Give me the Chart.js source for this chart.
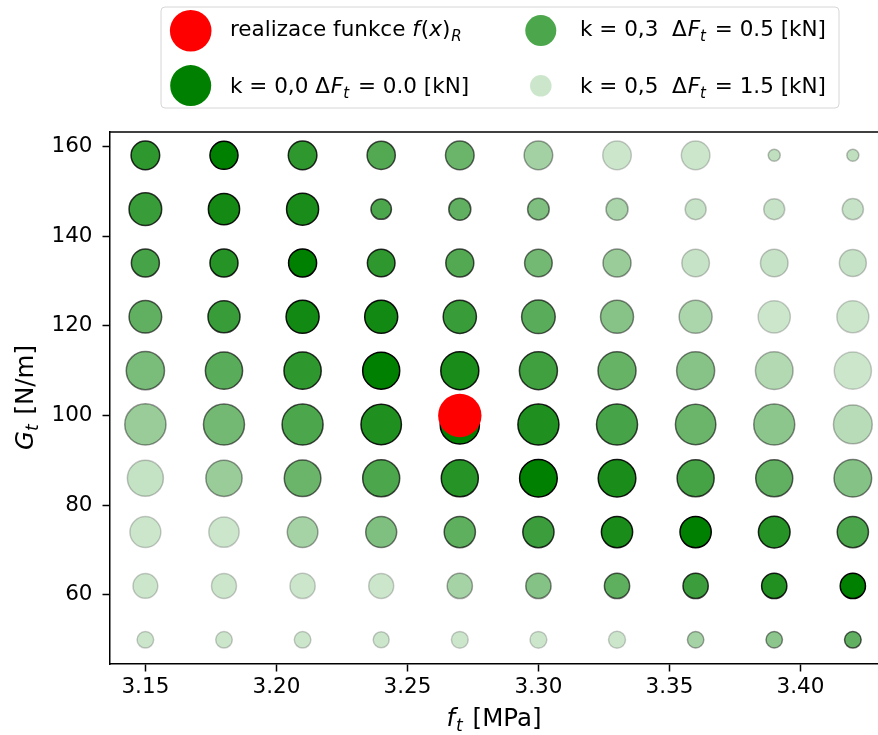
<!DOCTYPE html>
<html><head><meta charset="utf-8">
<script src="https://cdn.jsdelivr.net/npm/chart.js@4.4.1/dist/chart.umd.min.js"></script>
<style>html,body{margin:0;padding:0;background:#fff;overflow:hidden}canvas{display:block}</style>
</head><body><canvas id="c" width="878" height="735"></canvas>
<script>
// ---- data ----
const xValues = [3.15, 3.18, 3.21, 3.24, 3.27, 3.30, 3.33, 3.36, 3.39, 3.42];
const yValues = [50, 62, 74, 86, 98, 110, 122, 134, 146, 158];
// bubble size per cell (rows follow yValues, columns follow xValues)
const bubbleSize = [
  [8.3, 8.3, 8.3, 8.0, 8.4, 8.4, 8.5, 8.2, 8.2, 8.3],
  [12.4, 12.5, 12.6, 12.5, 12.6, 12.6, 12.6, 12.6, 12.6, 12.6],
  [15.5, 15.2, 15.3, 15.5, 15.6, 15.6, 15.6, 15.6, 15.8, 15.6],
  [18.0, 18.1, 18.3, 18.5, 18.5, 18.8, 18.8, 18.5, 18.5, 18.8],
  [20.6, 20.5, 20.5, 20.2, 19.6, 20.5, 20.5, 20.2, 20.5, 19.4],
  [19.1, 18.6, 18.6, 18.5, 19.0, 19.0, 19.0, 19.0, 18.8, 18.6],
  [16.3, 16.0, 16.5, 16.5, 16.6, 16.8, 16.5, 16.5, 16.1, 16.0],
  [14.0, 14.0, 14.0, 13.8, 14.0, 13.8, 14.0, 13.8, 13.8, 13.5],
  [16.3, 15.6, 16.0, 10.2, 11.0, 10.8, 11.0, 10.5, 10.5, 10.6],
  [14.3, 14.0, 14.3, 14.1, 14.3, 14.3, 14.3, 14.3, 6.0, 6.0]
];
// bubble shade (opacity of green) per cell
const bubbleShade = [
  [0.20, 0.20, 0.20, 0.20, 0.20, 0.20, 0.20, 0.35, 0.45, 0.62],
  [0.20, 0.20, 0.20, 0.20, 0.35, 0.48, 0.63, 0.77, 0.87, 1.00],
  [0.20, 0.20, 0.35, 0.50, 0.63, 0.77, 0.90, 1.00, 0.85, 0.70],
  [0.23, 0.40, 0.58, 0.70, 0.85, 1.00, 0.90, 0.73, 0.62, 0.48],
  [0.40, 0.55, 0.70, 0.88, 1.00, 0.88, 0.72, 0.58, 0.45, 0.28],
  [0.52, 0.65, 0.82, 1.00, 0.90, 0.75, 0.60, 0.47, 0.30, 0.20],
  [0.62, 0.78, 0.93, 0.93, 0.78, 0.65, 0.47, 0.33, 0.20, 0.20],
  [0.72, 0.85, 1.00, 0.82, 0.68, 0.55, 0.40, 0.22, 0.22, 0.22],
  [0.78, 0.92, 0.90, 0.70, 0.62, 0.50, 0.33, 0.22, 0.22, 0.22],
  [0.82, 1.00, 0.82, 0.68, 0.58, 0.36, 0.20, 0.20, 0.25, 0.25]
];
const realizationX = [3.27];
const realizationY = [100];
const realizationSize = [21.7];
const xTicks = [3.15, 3.20, 3.25, 3.30, 3.35, 3.40];
const xTickLabels = ['3.15', '3.20', '3.25', '3.30', '3.35', '3.40'];
const yTicks = [60, 80, 100, 120, 140, 160];
const yTickLabels = ['60', '80', '100', '120', '140', '160'];
const xRange = [3.1365, 3.4296];
const yRange = [44.6, 163.2];

// legend entries
const legendTitle = 'realizace funkce ';
const legendK = ['0,0', '0,3', '0,5'];
const legendDF = ['0.0', '0.5', '1.5'];
const legendShade = [1.0, 0.7, 0.2];

// ---- helpers ----
const FAM = "'DejaVu Sans', sans-serif";
function segFont(s, size) {
  return (s.it ? 'italic ' : '') + (s.sub ? size * 0.7 : size) + 'px ' + FAM;
}
function richWidth(ctx, segs, size) {
  let w = 0;
  for (const s of segs) { ctx.font = segFont(s, size); w += ctx.measureText(s.t).width + (s.gap || 0); }
  return w;
}
function drawRich(ctx, segs, x, y, size) {
  for (const s of segs) {
    ctx.font = segFont(s, size);
    ctx.fillText(s.t, x, y + (s.sub ? size * 0.22 : 0));
    x += ctx.measureText(s.t).width + (s.gap || 0);
  }
}

const points = [];
yValues.forEach((y, i) => xValues.forEach((x, j) => {
  points.push({ x: x, y: y, r: bubbleSize[i][j], a: bubbleShade[i][j] });
}));
const redPoints = realizationX.map((x, i) => ({ x: x, y: realizationY[i], r: realizationSize[i] }));

const decor = {
  id: 'decor',
  afterDraw(chart) {
    const ctx = chart.ctx, a = chart.chartArea;
    ctx.save();
    ctx.strokeStyle = '#000'; ctx.lineWidth = 1.5;
    ctx.beginPath(); ctx.moveTo(a.left, a.top); ctx.lineTo(a.right + 2, a.top); ctx.stroke();
    ctx.fillStyle = '#000'; ctx.textBaseline = 'alphabetic';
    // axis titles
    const LS = 24.5;
    const xs = [{ t: 'f', it: true, gap: 1 }, { t: 't', it: true, sub: true, gap: 2 }, { t: ' [MPa]' }];
    const xw = richWidth(ctx, xs, LS);
    drawRich(ctx, xs, 494 - xw / 2, 726, LS);
    const ys = [{ t: 'G', it: true }, { t: 't', it: true, sub: true, gap: 2 }, { t: ' [N/m]' }];
    const yw = richWidth(ctx, ys, LS);
    ctx.save(); ctx.translate(33, 397.5); ctx.rotate(-Math.PI / 2);
    drawRich(ctx, ys, -yw / 2, 0, LS);
    ctx.restore();
    // legend box
    const bx = 161, by = 7, bw = 678, bh = 101, rr = 4;
    ctx.beginPath();
    ctx.moveTo(bx + rr, by); ctx.lineTo(bx + bw - rr, by); ctx.arcTo(bx + bw, by, bx + bw, by + rr, rr);
    ctx.lineTo(bx + bw, by + bh - rr); ctx.arcTo(bx + bw, by + bh, bx + bw - rr, by + bh, rr);
    ctx.lineTo(bx + rr, by + bh); ctx.arcTo(bx, by + bh, bx, by + bh - rr, rr);
    ctx.lineTo(bx, by + rr); ctx.arcTo(bx, by, bx + rr, by, rr); ctx.closePath();
    ctx.fillStyle = 'rgba(255,255,255,0.8)'; ctx.fill();
    ctx.strokeStyle = '#d6d6d6'; ctx.lineWidth = 1; ctx.stroke();
    // legend markers
    const markers = [
      [190.7, 30.8, 20.8, 'rgb(255,0,0)'],
      [190.7, 85.6, 20.5, 'rgba(0,128,0,' + legendShade[0] + ')'],
      [540.8, 30.6, 15.5, 'rgba(0,128,0,' + legendShade[1] + ')'],
      [540.8, 85.8, 10.8, 'rgba(0,128,0,' + legendShade[2] + ')']
    ];
    for (const m of markers) { ctx.beginPath(); ctx.arc(m[0], m[1], m[2], 0, Math.PI * 2); ctx.fillStyle = m[3]; ctx.fill(); }
    ctx.fillStyle = '#000';
    const FS = 21.5;
    drawRich(ctx, [
      { t: legendTitle }, { t: 'f', it: true, gap: 1 }, { t: '(' }, { t: 'x', it: true }, { t: ')', gap: 1 },
      { t: 'R', it: true, sub: true }
    ], 230, 36, FS);
    const entry = (k, df, sp) => [
      { t: 'k = ' + k + sp }, { t: 'Δ', gap: 1 }, { t: 'F', it: true }, { t: 't', it: true, sub: true, gap: 2 },
      { t: ' = ' + df + ' [kN]' }
    ];
    drawRich(ctx, entry(legendK[0], legendDF[0], ' '), 230, 93, FS);
    drawRich(ctx, entry(legendK[1], legendDF[1], '  '), 580, 36, FS);
    drawRich(ctx, entry(legendK[2], legendDF[2], '  '), 580, 93, FS);
    ctx.restore();
  }
};

Chart.defaults.font.family = FAM;
Chart.defaults.font.size = 21.5;
Chart.defaults.color = '#000';

new Chart(document.getElementById('c'), {
  type: 'bubble',
  data: {
    datasets: [
      { label: 'realizace funkce f(x)R', data: redPoints, order: 0,
        backgroundColor: 'rgb(255,0,0)', borderWidth: 0 },
      { label: 'k', data: points, order: 1,
        backgroundColor: c => 'rgba(0,128,0,' + (c.raw ? c.raw.a : 1) + ')',
        borderColor: c => 'rgba(0,0,0,' + (c.raw ? c.raw.a : 1) + ')',
        borderWidth: 1.5 }
    ]
  },
  options: {
    responsive: false, animation: false, events: [],
    layout: { autoPadding: false, padding: { top: 132, left: 0, right: 0, bottom: 0 } },
    plugins: { legend: { display: false }, tooltip: { enabled: false } },
    scales: {
      x: {
        type: 'linear', min: xRange[0], max: xRange[1],
        afterBuildTicks: s => { s.ticks = xTicks.map(v => ({ value: v })); },
        afterFit: s => { s.height = 71; s.paddingRight = 0; s.paddingLeft = 0; },
        ticks: { callback: v => xTickLabels[xTicks.indexOf(v)], padding: 3, maxRotation: 0, autoSkip: false, color: '#000', font: { size: 21.5 } },
        grid: { display: true, drawOnChartArea: false, drawTicks: true, tickLength: 7.5, tickWidth: 1.5, tickColor: '#000' },
        border: { display: true, color: '#000', width: 1.5 }
      },
      y: {
        type: 'linear', min: yRange[0], max: yRange[1],
        afterBuildTicks: s => { s.ticks = yTicks.map(v => ({ value: v })); },
        afterFit: s => { s.width = 110; s.paddingTop = 0; s.paddingBottom = 0; },
        ticks: { callback: v => yTickLabels[yTicks.indexOf(v)], padding: 10, autoSkip: false, color: '#000', font: { size: 21.5 } },
        grid: { display: true, drawOnChartArea: false, drawTicks: true, tickLength: 7.5, tickWidth: 1.5, tickColor: '#000' },
        border: { display: true, color: '#000', width: 1.5 }
      }
    }
  },
  plugins: [decor]
});
</script></body></html>
